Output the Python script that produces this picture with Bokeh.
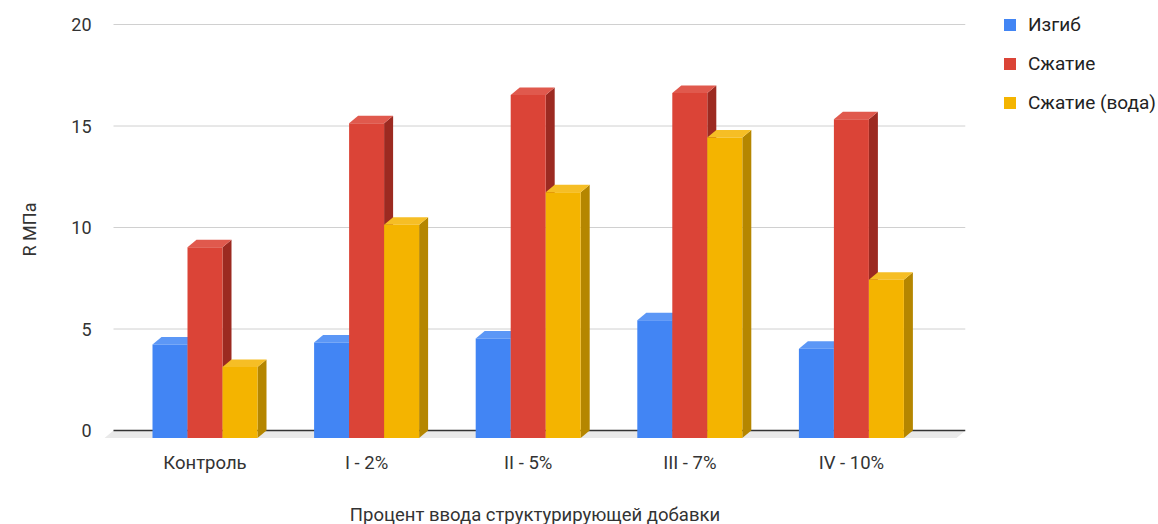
from bokeh.plotting import figure
from bokeh.models import Range1d, FixedTicker, Legend, LegendItem
from bokeh.embed import file_html
from bokeh.resources import INLINE

# --- data -------------------------------------------------------------
categories = ["Контроль", "I - 2%", "II - 5%", "III - 7%", "IV - 10%"]
series_names = ["Изгиб", "Сжатие", "Сжатие (вода)"]
bend = [4.6, 4.7, 4.9, 5.8, 4.4]
compression = [9.4, 15.5, 16.9, 17.0, 15.7]
compression_water = [3.5, 10.5, 12.1, 14.8, 7.8]
y_ticks = [0, 5, 10, 15, 20]

series_values = [bend, compression, compression_water]
front_colors = ["#4285F4", "#DB4437", "#F4B400"]
top_colors = ["#5c97f6", "#e0594d", "#f6be25"]
side_colors = ["#2f62b5", "#9c2a21", "#b58600"]

# --- geometry (pixels) -------------------------------------------------
W = 1158
LEFT, TOP = 104, 18
FRAME_RIGHT, FRAME_BOTTOM = 965, 440
frame_w = FRAME_RIGHT - LEFT
frame_h = FRAME_BOTTOM - TOP
PX_PER_UNIT_Y = 20.3          # pixels per MPa
ZERO_PX = 430                 # canvas y of the back-wall zero line
GROUP_PX0, GROUP_STEP = 204.5, 161.6
BAR_PX = 35
DEPTH_X, DEPTH_Y = 9, 7.5     # 3-D depth offset in pixels
BACK_LEFT_PX, BACK_RIGHT_PX = 113, 965

def xdata(px):
    return (px - GROUP_PX0) / GROUP_STEP

def ydata(py):
    return (ZERO_PX - py) / PX_PER_UNIT_Y

x0, x1 = xdata(LEFT), xdata(FRAME_RIGHT)
y1, y0 = ydata(TOP), ydata(FRAME_BOTTOM)

bw = BAR_PX / GROUP_STEP
dx = DEPTH_X / GROUP_STEP
dy = DEPTH_Y / PX_PER_UNIT_Y

p = figure(frame_width=frame_w, frame_height=frame_h,
           output_backend="svg", toolbar_location=None,
           x_range=Range1d(x0, x1), y_range=Range1d(y0, y1),
           min_border_left=LEFT, min_border_right=W - FRAME_RIGHT,
           min_border_top=TOP, min_border_bottom=10)
p.outline_line_color = None
p.xgrid.visible = False
p.ygrid.visible = False
p.background_fill_color = "white"
p.border_fill_color = "white"

FONT = "Roboto"

# floor of the 3-D box
bx0, bx1 = xdata(BACK_LEFT_PX), xdata(BACK_RIGHT_PX)
p.patch([bx0, bx1, bx1 - dx, bx0 - dx], [0, 0, -dy, -dy],
        fill_color="#e9e9e9", line_color=None)

# back-wall grid lines
grid_vals = [t for t in y_ticks if t != 0]
p.segment(x0=[bx0] * len(grid_vals), x1=[bx1] * len(grid_vals),
          y0=grid_vals, y1=grid_vals, line_color="#d0d0d0", line_width=1)
p.segment(x0=[bx0], x1=[bx1], y0=[0], y1=[0], line_color="#333333", line_width=1.5)

legend_items = []
n = len(series_values)
for s, vals in enumerate(series_values):
    lefts = [i - n * bw / 2 + s * bw for i in range(len(categories))]
    rights = [l + bw for l in lefts]
    bottoms = [-dy] * len(vals)
    tops = [v - dy for v in vals]
    side_xs = [[r, r + dx, r + dx, r] for r in rights]
    side_ys = [[b, b + dy, t + dy, t] for b, t in zip(bottoms, tops)]
    top_xs = [[l, l + dx, r + dx, r] for l, r in zip(lefts, rights)]
    top_ys = [[t, t + dy, t + dy, t] for t in tops]
    p.patches(side_xs, side_ys, fill_color=side_colors[s], line_color=None)
    p.patches(top_xs, top_ys, fill_color=top_colors[s], line_color=None)
    r = p.quad(left=lefts, right=rights, bottom=bottoms, top=tops,
               fill_color=front_colors[s], line_color=None)
    legend_items.append(LegendItem(label=series_names[s], renderers=[r]))

# axes
p.xaxis.ticker = FixedTicker(ticks=list(range(len(categories))))
p.xaxis.major_label_overrides = {i: c for i, c in enumerate(categories)}
p.xaxis.axis_line_color = None
p.xaxis.major_tick_line_color = None
p.xaxis.minor_tick_line_color = None
p.xaxis.major_label_standoff = 5
p.xaxis.major_label_text_font = FONT
p.xaxis.major_label_text_font_size = "18.5px"
p.xaxis.major_label_text_color = "#333333"
p.xaxis.axis_label = "Процент ввода структурирующей добавки"
p.xaxis.axis_label_text_font = FONT
p.xaxis.axis_label_text_font_style = "normal"
p.xaxis.axis_label_text_font_size = "18.5px"
p.xaxis.axis_label_text_color = "#333333"
p.xaxis.axis_label_standoff = 27

p.yaxis.ticker = FixedTicker(ticks=y_ticks)
p.yaxis.axis_line_color = None
p.yaxis.major_tick_line_color = None
p.yaxis.minor_tick_line_color = None
p.yaxis.major_label_standoff = 7
p.yaxis.major_label_text_font = FONT
p.yaxis.major_label_text_font_size = "18px"
p.yaxis.major_label_text_color = "#333333"
p.yaxis.axis_label = "R МПа"
p.yaxis.axis_label_text_font = FONT
p.yaxis.axis_label_text_font_style = "normal"
p.yaxis.axis_label_text_font_size = "18px"
p.yaxis.axis_label_text_color = "#333333"
p.yaxis.axis_label_standoff = 28

# legend in the right-hand panel
ITEM_H, PITCH = 22, 38
legend_h = 3 * ITEM_H + 2 * (PITCH - ITEM_H)
legend_top = 26.5 - ITEM_H / 2
legend = Legend(items=legend_items,
                location=(1002 - FRAME_RIGHT, FRAME_BOTTOM - legend_top - legend_h),
                orientation="vertical", padding=0, margin=0,
                border_line_color=None, background_fill_alpha=0,
                glyph_width=15, glyph_height=15, label_height=ITEM_H,
                spacing=PITCH - ITEM_H, label_standoff=11, label_text_font=FONT,
                label_text_font_size="19px", label_text_color="#222222")
p.add_layout(legend, "right")

open("out.html", "w").write(file_html(p, INLINE))
